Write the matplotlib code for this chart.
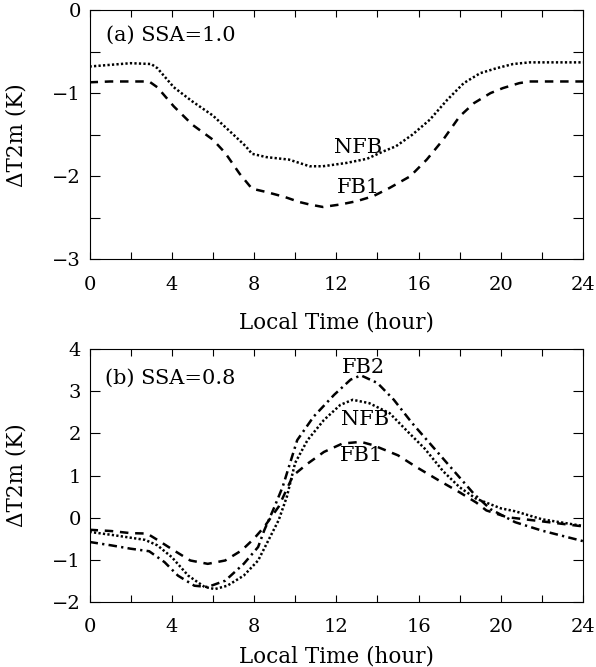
import matplotlib
matplotlib.use("Agg")
import matplotlib.pyplot as plt
from matplotlib.ticker import MultipleLocator

plt.rcParams['font.family'] = ['DejaVu Serif']
plt.rcParams['axes.unicode_minus'] = True

# --- data ---
# panel (a) SSA=1.0
hour_a_nfb = [0, 1, 2, 3, 3.3, 4.1, 5, 6, 7, 7.6, 7.9, 8.6, 9.7, 10.7, 11.35, 12.5,
              13.5, 14.3, 14.9, 15.7, 16.55, 17.4, 18.2, 19, 19.8, 20.6, 21.4, 22.2, 24]
nfb_a = [-0.68, -0.66, -0.64, -0.65, -0.70, -0.93, -1.10, -1.27, -1.50, -1.64, -1.73,
         -1.77, -1.80, -1.88, -1.88, -1.84, -1.79, -1.70, -1.64, -1.50, -1.32, -1.08,
         -0.88, -0.76, -0.70, -0.65, -0.63, -0.63, -0.63]

hour_a_fb1 = [0, 1, 2.9, 3.3, 4.1, 5, 6, 6.6, 7.3, 7.9, 8.6, 9.5, 10.2, 10.7, 11.35,
              12.2, 13, 13.8, 14.6, 15.6, 16.4, 17.2, 18, 18.7, 19.5, 20.1, 20.9, 21.4, 24]
fb1_a = [-0.87, -0.86, -0.86, -0.93, -1.16, -1.38, -1.56, -1.72, -1.97, -2.15, -2.19,
         -2.25, -2.31, -2.34, -2.37, -2.34, -2.30, -2.24, -2.14, -2.00, -1.80, -1.56,
         -1.28, -1.12, -1.00, -0.94, -0.88, -0.86, -0.86]

# panel (b) SSA=0.8
hour_b_fb1 = [0, 1.05, 2, 2.8, 3.3, 4.1, 4.9, 5.75, 6.6, 7.4, 8.0, 8.5, 9.2, 9.9, 10.6,
              11.4, 12.3, 13.2, 13.8, 15.0, 15.9, 17.0, 18.0, 18.8, 19.3, 20.3, 22, 24]
fb1_b = [-0.29, -0.32, -0.37, -0.38, -0.53, -0.78, -1.02, -1.10, -1.02, -0.78, -0.50,
         -0.22, 0.26, 1.00, 1.28, 1.56, 1.76, 1.80, 1.72, 1.48, 1.20, 0.88, 0.60, 0.36,
         0.17, 0.01, -0.09, -0.21]

hour_b_nfb = [0, 1.2, 2.7, 3.3, 4.0, 4.8, 5.6, 6.1, 6.7, 7.5, 8.2, 8.7, 9.2, 9.6, 10.0,
              10.6, 11.4, 12.2, 12.8, 13.6, 14.6, 15.4, 16.3, 17.2, 18.0, 18.8, 20.0,
              20.7, 22, 24]
nfb_b = [-0.34, -0.42, -0.53, -0.66, -0.94, -1.38, -1.65, -1.70, -1.62, -1.38, -1.02,
         -0.54, -0.06, 0.50, 1.30, 1.84, 2.32, 2.68, 2.80, 2.72, 2.48, 2.08, 1.64, 1.10,
         0.72, 0.45, 0.22, 0.15, -0.04, -0.20]

hour_b_fb2 = [0, 1.05, 2, 2.9, 3.65, 4.3, 5.1, 5.75, 6.6, 7.5, 8.2, 8.5, 9.0, 9.4, 10.1,
              10.9, 11.9, 12.7, 13.2, 14.0, 14.8, 15.7, 16.7, 17.7, 18.7, 19.5, 20.7, 22, 24]
fb2_b = [-0.58, -0.66, -0.74, -0.80, -1.06, -1.38, -1.62, -1.65, -1.50, -1.10, -0.70,
         -0.30, 0.26, 0.74, 1.84, 2.40, 2.92, 3.28, 3.38, 3.20, 2.80, 2.24, 1.68, 1.12,
         0.56, 0.20, -0.11, -0.31, -0.56]

x_ticks = [0, 4, 8, 12, 16, 20, 24]

# --- plot ---
fig = plt.figure(figsize=(5.96, 6.67), dpi=100)
ax1 = fig.add_axes([0.1502, 0.6112, 0.828, 0.3738])
ax2 = fig.add_axes([0.1502, 0.0979, 0.828, 0.3784])

lw = 1.8
dot = (0, (0.9, 0.9))
dash = (0, (3.4, 2.7))
dashdot = (0, (3.4, 1.7, 0.9, 1.7))

ax1.plot(hour_a_nfb, nfb_a, color='black', lw=lw, linestyle=dot)
ax1.plot(hour_a_fb1, fb1_a, color='black', lw=lw, linestyle=dash)
ax1.set_ylim(-3, 0)
ax1.yaxis.set_major_locator(MultipleLocator(1))
ax1.yaxis.set_minor_locator(MultipleLocator(0.5))
ax1.text(0.8, -0.31, '(a) SSA=1.0', fontsize=15, ha='left', va='center')
ax1.text(13.07, -1.65, 'NFB', fontsize=15, ha='center', va='center')
ax1.text(13.07, -2.13, 'FB1', fontsize=15, ha='center', va='center')

ax2.plot(hour_b_nfb, nfb_b, color='black', lw=lw, linestyle=dot)
ax2.plot(hour_b_fb1, fb1_b, color='black', lw=lw, linestyle=dash)
ax2.plot(hour_b_fb2, fb2_b, color='black', lw=lw, linestyle=dashdot)
ax2.set_ylim(-2, 4)
ax2.yaxis.set_major_locator(MultipleLocator(1))
ax2.text(0.75, 3.31, '(b) SSA=0.8', fontsize=15, ha='left', va='center')
ax2.text(13.3, 3.56, 'FB2', fontsize=15, ha='center', va='center')
ax2.text(13.4, 2.33, 'NFB', fontsize=15, ha='center', va='center')
ax2.text(13.24, 1.47, 'FB1', fontsize=15, ha='center', va='center')

for ax, ylab_y in [(ax1, -0.211), (ax2, -0.172)]:
    ax.set_xlim(0, 24)
    ax.set_xticks(x_ticks)
    ax.xaxis.set_minor_locator(MultipleLocator(2))
    ax.tick_params(which='both', direction='in', top=True, right=True,
                   labelsize=14, width=0.8, color='black')
    ax.tick_params(axis='x', which='both', length=5, pad=12)
    ax.tick_params(axis='y', which='both', length=7, pad=6)
    for s in ax.spines.values():
        s.set_linewidth(0.8)
    ax.set_xlabel('Local Time (hour)', fontsize=15.5)
    ax.xaxis.set_label_coords(0.5, ylab_y)
    ax.set_ylabel('ΔT2m (K)', fontsize=15.5)
    ax.yaxis.set_label_coords(-0.125, 0.5)

fig.savefig('out.png', dpi=100)
